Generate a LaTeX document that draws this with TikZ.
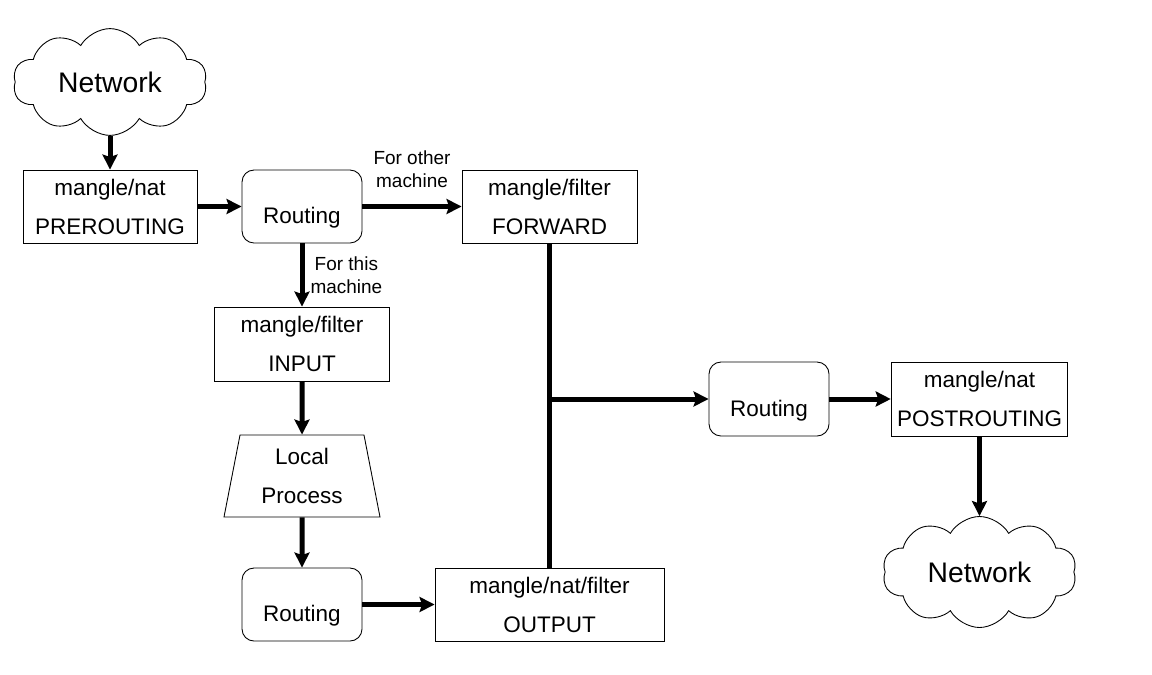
\documentclass[tikz,border=0pt]{standalone}
\usepackage{fontspec}
\setmainfont{Liberation Sans}
\usetikzlibrary{arrows.meta}
\usetikzlibrary{positioning, shapes.geometric, shapes.symbols}

\begin{document}
\begin{tikzpicture}[on grid, line width=0.5pt,
    hookbox/.style={draw, rectangle, minimum width=3.5cm, minimum height=1.46cm, align=center, font=\fontsize{12.8}{22.2}\selectfont},
    router/.style={draw, rounded corners=0.24cm, minimum width=2.4cm, minimum height=1.46cm, text height=0.68cm, text depth=0cm, font=\fontsize{12.8}{22.2}\selectfont},
    proc/.style={draw, trapezium, trapezium left angle=76.6, trapezium right angle=76.6, trapezium stretches body, minimum width=3.12cm, minimum height=1.64cm, align=center, font=\fontsize{12.8}{22.2}\selectfont},
    netcloud/.style={draw, cloud, cloud puffs=10, cloud puff arc=120, aspect=2, minimum width=3.88cm, minimum height=1.94cm, font=\fontsize{16.1}{19}\selectfont},
    flow/.style={line width=0.1cm, -{Stealth[length=0.3cm, width=0.3cm, inset=0.05cm]}},
    lbl/.style={inner sep=0pt, align=center, font=\fontsize{10.8}{13.1}\selectfont}]

  \useasboundingbox (0,0) rectangle (23.04,-13.48);

  \node[hookbox, minimum width=3.48cm] (pre) at (2.2,-4.13) {mangle/nat\\PREROUTING};
  \node[netcloud] (net_in) [above=2.49cm of pre] {Network};
  \node[router] (rt_in) [right=3.84cm of pre] {Routing};
  \node[hookbox] (fwd) [right=4.95cm of rt_in] {mangle/filter\\FORWARD};
  \node[hookbox, minimum height=1.48cm] (inp) [below=2.75cm of rt_in] {mangle/filter\\INPUT};
  \node[proc] (local) [below=2.64cm of inp] {Local\\Process};
  \node[router] (rt_loc) [below=2.57cm of local] {Routing};
  \node[hookbox, minimum width=4.58cm] (out) [right=4.95cm of rt_loc] {mangle/nat/filter\\OUTPUT};
  \node[router, minimum height=1.48cm] (rt_out) at (15.38,-7.98) {Routing};
  \node[hookbox, minimum height=1.48cm] (post) [right=4.21cm of rt_out] {mangle/nat\\POSTROUTING};
  \node[netcloud, minimum height=2.22cm] (net_out) [below=3.46cm of post] {Network};
  \coordinate (join) at (fwd.south |- rt_out);

  \draw[line width=0.1cm] (fwd) -- (out);
  \path[flow]
    (net_in) edge (pre)
    (pre) edge (rt_in)
    (rt_in) edge node[lbl, above=0.33cm] {For other\\machine} (fwd)
    (rt_in) edge node[lbl, right=0.12cm] {For this\\machine} (inp)
    (inp) edge (local)
    (local) edge (rt_loc)
    (rt_loc) edge (out)
    (join) edge (rt_out)
    (rt_out) edge (post)
    (post) edge (net_out);
\end{tikzpicture}
\end{document}
